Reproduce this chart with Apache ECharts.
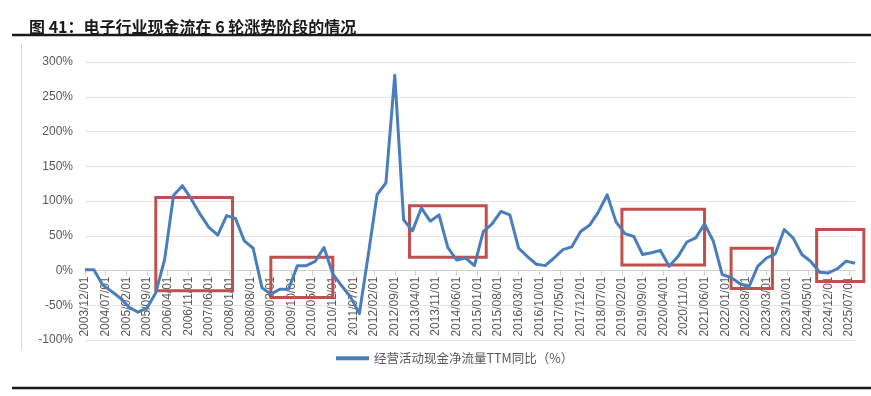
<!DOCTYPE html>
<html>
<head>
<meta charset="utf-8">
<script src="https://cdn.jsdelivr.net/npm/echarts@6/dist/echarts.min.js"></script>
<style>
html,body{margin:0;padding:0;background:#fff;}
#chart{width:871px;height:396px;}
</style>
</head>
<body>
<div id="chart"></div>
<script>
// ---- data ----
const titleText = '图 41：电子行业现金流在 6 轮涨势阶段的情况';
const seriesName = '经营活动现金净流量TTM同比（%）';
const firstMonth = [2003, 12];
const lastMonth = [2025, 9];
const quarterDates = [
  '2003/12/01','2004/03/01','2004/06/01','2004/09/01','2004/12/01','2005/03/01','2005/06/01','2005/09/01','2005/12/01',
  '2006/03/01','2006/06/01','2006/09/01','2006/12/01','2007/03/01','2007/06/01','2007/09/01','2007/12/01',
  '2008/03/01','2008/06/01','2008/09/01','2008/12/01','2009/03/01','2009/06/01','2009/09/01','2009/12/01',
  '2010/03/01','2010/06/01','2010/09/01','2010/12/01','2011/03/01','2011/06/01','2011/09/01','2011/12/01',
  '2012/03/01','2012/06/01','2012/09/01','2012/12/01','2013/03/01','2013/06/01','2013/09/01','2013/12/01',
  '2014/03/01','2014/06/01','2014/09/01','2014/12/01','2015/03/01','2015/06/01','2015/09/01','2015/12/01',
  '2016/03/01','2016/06/01','2016/09/01','2016/12/01','2017/03/01','2017/06/01','2017/09/01','2017/12/01',
  '2018/03/01','2018/06/01','2018/09/01','2018/12/01','2019/03/01','2019/06/01','2019/09/01','2019/12/01',
  '2020/03/01','2020/06/01','2020/09/01','2020/12/01','2021/03/01','2021/06/01','2021/09/01','2021/12/01',
  '2022/03/01','2022/06/01','2022/09/01','2022/12/01','2023/03/01','2023/06/01','2023/09/01','2023/12/01',
  '2024/03/01','2024/06/01','2024/09/01','2024/12/01','2025/03/01','2025/06/01','2025/09/01'
];
const cashFlowYoY = [
  1, 1, -21, -30, -40, -53, -60, -54, -32,
  16, 108, 122, 103, 81, 62, 51, 79,
  75, 42.5, 32, -25, -34, -27, -27, 7,
  7, 13, 33, -5, -22, -38, -62, 22,
  109, 126, 281, 73, 57, 90, 71, 80,
  33, 15, 18, 7, 56, 67, 85, 80,
  32, 20, 9, 7, 18, 30, 34, 56,
  65, 84, 109, 70, 53, 49, 23, 25.5,
  29, 6, 20, 41, 47, 67, 42, -6,
  -10, -19, -24, 6, 18, 24, 59, 47,
  23, 13, -2.5, -3.5, 2.5, 13.5, 10.5
];
// rally-phase boxes (start month, end month, top %, bottom %)
const boxStart  = ['2005/12', '2009/03', '2013/02', '2019/02', '2022/03', '2024/08'];
const boxEnd    = ['2008/02', '2010/12', '2015/04', '2021/06', '2023/05', '2025/12'];
const boxTop    = [105, 19, 93, 88, 32, 59];
const boxBottom = [-29, -39, 19, 8, -26, -16];
const yTicks = { min: -100, max: 300, interval: 50 };

// ---- build ----
const pad = n => (n < 10 ? '0' : '') + n;
const categories = [];
for (let y = firstMonth[0], m = firstMonth[1]; y < lastMonth[0] || (y === lastMonth[0] && m <= lastMonth[1]); ) {
  categories.push(y + '/' + pad(m) + '/01');
  m++; if (m > 12) { m = 1; y++; }
}
const monthIndex = s => {
  const [y, m] = s.split('/').map(Number);
  return (y - firstMonth[0]) * 12 + (m - firstMonth[1]);
};
const lineData = quarterDates.map((d, i) => [d, cashFlowYoY[i]]);
const boxData = boxStart.map((s, i) => [monthIndex(s), monthIndex(boxEnd[i]), boxTop[i], boxBottom[i]]);

const W = 871, H = 396;
const gridBox = { left: 85, right: 16, top: 62, bottom: 56 };
const gridHeight = H - gridBox.top - gridBox.bottom;
// move the category axis up to the 0% line
const zeroOffset = -gridHeight * (0 - yTicks.min) / (yTicks.max - yTicks.min);

const FONT = "'Liberation Sans', 'Noto Sans CJK SC', sans-serif";
const chart = echarts.init(document.getElementById('chart'), null, { renderer: 'canvas' });
chart.setOption({
  animation: false,
  backgroundColor: '#ffffff',
  textStyle: { fontFamily: FONT },
  title: {
    text: titleText,
    left: 24, top: 14,
    textStyle: { fontFamily: "'Noto Sans CJK SC', sans-serif", fontSize: 16, fontWeight: 'bold', color: '#1a1a1a' }
  },
  graphic: [
    { type: 'line', shape: { x1: 12, y1: 35, x2: 871, y2: 35 }, style: { stroke: '#1a1a1a', lineWidth: 2.5 } },
    { type: 'line', shape: { x1: 12, y1: 388, x2: 871, y2: 388 }, style: { stroke: '#1a1a1a', lineWidth: 2.5 } },
    { type: 'line', shape: { x1: 21.5, y1: 44, x2: 21.5, y2: 350 }, style: { stroke: '#d9d9d9', lineWidth: 1 } }
  ],
  legend: {
    data: [seriesName],
    left: 331, top: 347,
    icon: 'rect', itemWidth: 33, itemHeight: 4, itemGap: 4,
    textStyle: { color: '#595959', fontSize: 12.5, fontFamily: "'Noto Sans CJK SC', sans-serif" }
  },
  grid: { left: gridBox.left, right: gridBox.right, top: gridBox.top, bottom: gridBox.bottom, containLabel: false, outerBoundsMode: 'none' },
  xAxis: {
    type: 'category',
    data: categories,
    boundaryGap: false,
    position: 'bottom',
    offset: zeroOffset,
    axisLine: { onZero: false, lineStyle: { color: '#d0d0d0', width: 1 } },
    axisTick: { show: true, interval: 6, length: 5, lineStyle: { color: '#d0d0d0' } },
    axisLabel: { interval: 6, rotate: 90, color: '#595959', fontSize: 12, margin: 6, fontFamily: FONT },
    splitLine: { show: false }
  },
  yAxis: {
    type: 'value',
    min: yTicks.min, max: yTicks.max, interval: yTicks.interval,
    axisLine: { show: false },
    axisTick: { show: false },
    axisLabel: { formatter: '{value}%', color: '#595959', fontSize: 12, margin: 12, fontFamily: FONT },
    splitLine: { lineStyle: { color: '#e3e3e3', width: 1 } }
  },
  series: [
    {
      name: seriesName,
      type: 'line',
      data: lineData,
      symbol: 'none',
      z: 3,
      lineStyle: { color: '#4a7ebb', width: 3, join: 'round' },
      itemStyle: { color: '#4a7ebb' }
    },
    {
      name: 'boxes',
      type: 'custom',
      silent: true,
      z: 2,
      encode: { x: [0, 1], y: [2, 3] },
      data: boxData,
      renderItem: function (params, api) {
        const p0 = api.coord([api.value(0), api.value(2)]);
        const p1 = api.coord([api.value(1), api.value(3)]);
        return {
          type: 'rect',
          shape: { x: p0[0], y: p0[1], width: p1[0] - p0[0], height: p1[1] - p0[1] },
          style: { fill: 'none', stroke: '#c0504d', lineWidth: 3 }
        };
      }
    }
  ]
});
</script>
</body>
</html>
